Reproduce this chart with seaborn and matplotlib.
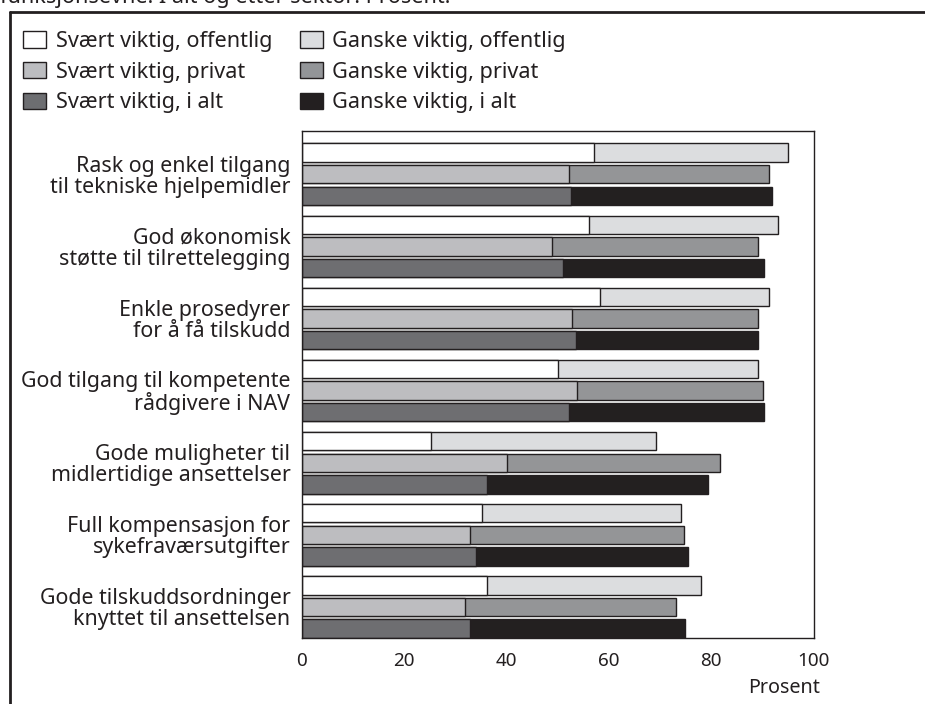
import numpy as np
import pandas as pd
import matplotlib
matplotlib.use('Agg')
import matplotlib.pyplot as plt
from matplotlib.patches import Patch
from matplotlib.lines import Line2D
import seaborn as sns

# data (lest av figuren)
tiltak = [
    'Rask og enkel tilgang\ntil tekniske hjelpemidler',
    'God økonomisk\nstøtte til tilrettelegging',
    'Enkle prosedyrer\nfor å få tilskudd',
    'God tilgang til kompetente\nrådgivere i NAV',
    'Gode muligheter til\nmidlertidige ansettelser',
    'Full kompensasjon for\nsykefraværsutgifter',
    'Gode tilskuddsordninger\nknyttet til ansettelsen',
]
sektorer = ['offentlig', 'privat', 'i alt']

svaert_offentlig = [57.2, 56.2, 58.3, 50.1, 25.3, 35.2, 36.3]
svaert_privat = [52.3, 49.0, 52.8, 53.9, 40.1, 33.0, 31.9]
svaert_i_alt = [52.7, 51.1, 53.7, 52.3, 36.2, 34.0, 33.0]

ganske_offentlig = [37.9, 36.9, 33.1, 39.1, 44.0, 39.0, 41.8]
ganske_privat = [39.0, 40.2, 36.3, 36.3, 41.7, 41.8, 41.2]
ganske_i_alt = [39.2, 39.2, 35.5, 38.0, 43.1, 41.5, 41.9]

farger_svaert = ['#ffffff', '#bcbdc0', '#6d6e71']
farger_ganske = ['#dcdddf', '#939598', '#231f20']
kant = '#231f20'

# lang tabell for seaborn
rader = []
for s, sv, ga in zip(sektorer,
                     [svaert_offentlig, svaert_privat, svaert_i_alt],
                     [ganske_offentlig, ganske_privat, ganske_i_alt]):
    for t, a, b in zip(tiltak, sv, ga):
        rader.append({'tiltak': t, 'sektor': s, 'svaert': a, 'totalt': a + b})
df = pd.DataFrame(rader)

sns.set_style('white')
plt.rcParams['font.family'] = ['Noto Sans', 'DejaVu Sans']

fig = plt.figure(figsize=(9.25, 7.04), dpi=100)
renderer = fig.canvas.get_renderer()


def tilpass(tekst, bredde_px):
    # skriftstørrelse slik at teksten blir omtrent like bred som i originalen
    t = fig.text(0, 0, tekst, fontsize=10)
    w = t.get_window_extent(renderer).width
    t.remove()
    return 10 * bredde_px / w


fs_y = tilpass('til tekniske hjelpemidler', 240)
fs_leg = tilpass('Svært viktig, offentlig', 216)
fs_x = tilpass('100', 32)
fs_lab = tilpass('Prosent', 72)

ax = fig.add_axes([301.5 / 925, 1 - 638 / 704, 512 / 925, 507 / 704])

# stablede søyler: totalt (ganske) først, svært viktig oppå
sns.barplot(data=df, y='tiltak', x='totalt', hue='sektor', hue_order=sektorer,
            palette=farger_ganske, orient='h', width=0.9, gap=0.15, errorbar=None,
            edgecolor=kant, linewidth=1.0, legend=False, ax=ax)
sns.barplot(data=df, y='tiltak', x='svaert', hue='sektor', hue_order=sektorer,
            palette=farger_svaert, orient='h', width=0.9, gap=0.15, errorbar=None,
            edgecolor=kant, linewidth=1.0, legend=False, ax=ax)

ax.set_xlim(0, 100)
ax.set_ylim(6.43, -0.6)
ax.set_xticks(range(0, 101, 20))
ax.set_ylabel('')
ax.set_xlabel('Prosent', loc='right', fontsize=fs_lab, color=kant)
ax.xaxis.set_label_coords(1.013, -0.078)
ax.tick_params(axis='x', length=5, width=1, color=kant, direction='out', pad=5,
               labelsize=fs_x, labelcolor=kant)
ax.tick_params(axis='y', length=0, pad=8, labelsize=fs_y, labelcolor=kant)
for lbl in ax.get_yticklabels():
    lbl.set_linespacing(1.0)
for sp in ax.spines.values():
    sp.set_color(kant)
    sp.set_linewidth(1.0)

# forklaring
handles = []
navn = []
for f, s in zip(farger_svaert, sektorer):
    handles.append(Patch(facecolor=f, edgecolor=kant, linewidth=1.0))
    navn.append('Svært viktig, ' + s)
for f, s in zip(farger_ganske, sektorer):
    handles.append(Patch(facecolor=f, edgecolor=kant, linewidth=1.0))
    navn.append('Ganske viktig, ' + s)
px = fs_leg * 100 / 72
fig.legend(handles, navn, ncol=2, loc='upper left', bbox_to_anchor=(23 / 925, 1 - 31 / 704),
           frameon=False, fontsize=fs_leg, labelcolor=kant,
           handlelength=23 / px, handleheight=17 / px, handletextpad=10 / px,
           labelspacing=0.45, columnspacing=27 / px, borderpad=0, borderaxespad=0)

# avkuttet tekst og ramme øverst
fig.text(0.0, 1 - 3 / 704, 'funksjonsevne. I alt og etter sektor. Prosent.',
         ha='left', va='baseline', fontsize=fs_leg, color=kant)
fig.add_artist(Line2D([9.5 / 925, 1.0], [1 - 12 / 704, 1 - 12 / 704],
                      transform=fig.transFigure, color=kant, linewidth=2.0))
fig.add_artist(Line2D([9.5 / 925, 9.5 / 925], [1 - 12 / 704, 0.0],
                      transform=fig.transFigure, color=kant, linewidth=2.0))

fig.savefig('out.png', dpi=100)
